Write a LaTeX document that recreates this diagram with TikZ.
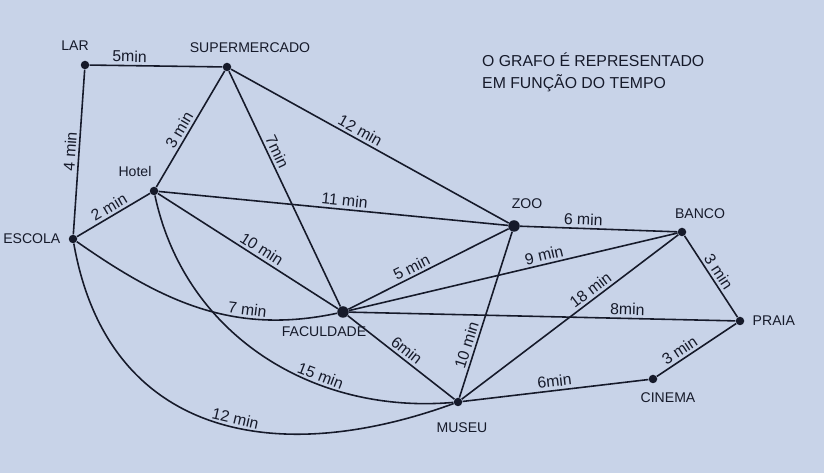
\documentclass[tikz,border=0pt]{standalone}
\usepackage{fontspec}
\setmainfont{Liberation Sans}
\usetikzlibrary{positioning}
\definecolor{paper}{RGB}{200,211,232}
\definecolor{ink}{RGB}{22,26,42}

\begin{document}
\begin{tikzpicture}[
                x=0.2mm, y=0.2mm,
                vertex/.style={circle, fill=ink, inner sep=0pt, minimum size=1.7mm},
                bigvertex/.style={vertex, minimum size=2.3mm},
                edge/.style={draw=ink, line width=0.9pt},
                place/.style={text=ink, font=\fontsize{8}{10}\selectfont, inner sep=1pt},
                cost/.style={text=ink, font=\small, sloped, above, inner sep=1.5pt},
                node distance=1.5mm
            ]

            \fill[paper] (0,0) rectangle (824,473);
            \useasboundingbox (0,0) rectangle (824,473);

            \node[vertex] (lar) at (85,408) {};
            \node[vertex] (super) at (227,406) {};
            \node[vertex] (hotel) at (154,282) {};
            \node[vertex] (escola) at (73,234) {};
            \node[bigvertex] (zoo) at (514,247) {};
            \node[vertex] (banco) at (682,241) {};
            \node[bigvertex] (fac) at (343,161) {};
            \node[vertex] (praia) at (740,152) {};
            \node[vertex] (museu) at (458,71) {};
            \node[vertex] (cinema) at (653,94) {};

            \node[place, above=1.6mm of lar, xshift=-2mm] (larname) {LAR};
            \node[place, above=1.6mm of super, xshift=4.6mm] (supername) {SUPERMERCADO};
            \node[place, above=1.6mm of hotel, xshift=-3.8mm] (hotelname) {Hotel};
            \node[place, left=1.2mm of escola] (escolaname) {ESCOLA};
            \node[place, above=1.8mm of zoo, xshift=2.6mm] (zooname) {ZOO};
            \node[place, above=1.4mm of banco, xshift=3.6mm] (banconame) {BANCO};
            \node[place, right=1.2mm of praia] (praianame) {PRAIA};
            \node[place, below=1.4mm of cinema, xshift=3mm] (cinemaname) {CINEMA};
            \node[place, below=2.8mm of museu, xshift=0.8mm] (museuname) {MUSEU};
            \node[place, below=1.2mm of fac, xshift=-3.8mm] (facname) {FACULDADE};

            \node[text=ink, font=\fontsize{9}{12}\selectfont, align=left, anchor=north west]
                (note) at (476,426) {O GRAFO É REPRESENTADO\\EM FUNÇÃO DO TEMPO};

            \draw[edge] (lar) -- node[cost, pos=0.3] {5min} (super);
            \draw[edge] (escola) -- node[cost, pos=0.5] {4 min} (lar);
            \draw[edge] (hotel) -- node[cost, pos=0.45] {3 min} (super);
            \draw[edge] (super) -- node[cost, pos=0.36] {7min} (fac);
            \draw[edge] (super) -- node[cost, pos=0.45] {12 min} (zoo);
            \draw[edge] (escola) -- node[cost, pos=0.5] {2 min} (hotel);
            \draw[edge] (hotel) -- node[cost, pos=0.53] {11 min} (zoo);
            \draw[edge] (hotel) -- node[cost, pos=0.55] {10 min} (fac);
            \draw[edge] (escola) to[out=-35, in=192] node[cost, pos=0.68] {7 min} (fac);
            \draw[edge] (hotel) to[out=-78, in=185] node[cost, pos=0.66] {15 min} (museu);
            \draw[edge] (escola) to[out=-80, in=200, looseness=1.2] node[cost, pos=0.56] {12 min} (museu);
            \draw[edge] (fac) -- node[cost, pos=0.42] {5 min} (zoo);
            \draw[edge] (fac) -- node[cost, pos=0.6] {9 min} (banco);
            \draw[edge] (fac) -- node[cost, pos=0.72] {8min} (praia);
            \draw[edge] (fac) -- node[cost, pos=0.5] {6min} (museu);
            \draw[edge] (museu) -- node[cost, pos=0.3] {10 min} (zoo);
            \draw[edge] (zoo) -- node[cost, pos=0.4] {6 min} (banco);
            \draw[edge] (museu) -- node[cost, pos=0.62] {18 min} (banco);
            \draw[edge] (banco) -- node[cost, pos=0.5] {3 min} (praia);
            \draw[edge] (cinema) -- node[cost, pos=0.35] {3 min} (praia);
            \draw[edge] (museu) -- node[cost, pos=0.5] {6min} (cinema);

        \end{tikzpicture}
\end{document}
